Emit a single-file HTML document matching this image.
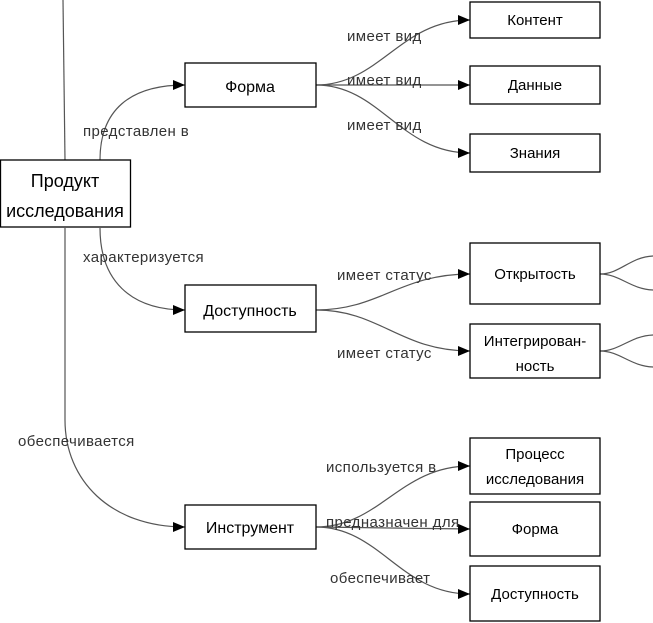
<!DOCTYPE html>
<html><head><meta charset="utf-8"><style>
html,body{margin:0;padding:0;background:#fff;}
svg{display:block;font-family:"Liberation Sans",sans-serif;}
</style></head><body>
<svg width="653" height="623" viewBox="0 0 653 623" xmlns="http://www.w3.org/2000/svg">
<defs><marker id="a" markerWidth="12" markerHeight="10" refX="12" refY="5" orient="auto" markerUnits="userSpaceOnUse"><path d="M0,0 L12,5 L0,10 Z" fill="#000"/></marker></defs>
<g fill="none" stroke="#555" stroke-width="1.2">
<path d="M63,0 L65,160"/>
<path d="M100,160 C100,110 130,85 185,85" marker-end="url(#a)"/>
<path d="M100,228 C100,280 130,310 185,310" marker-end="url(#a)"/>
<path d="M65,228 L65,420 C65,480 110,527 185,527" marker-end="url(#a)"/>
<path d="M316,85 C380,85 400,20 470,20" marker-end="url(#a)"/>
<path d="M316,85 L470,85" marker-end="url(#a)"/>
<path d="M316,85 C380,85 400,153 470,153" marker-end="url(#a)"/>
<path d="M316,310 C380,310 400,274 470,274" marker-end="url(#a)"/>
<path d="M316,310 C380,310 400,351 470,351" marker-end="url(#a)"/>
<path d="M316,527 C380,527 400,466 470,466" marker-end="url(#a)"/>
<path d="M316,527 L470,529" marker-end="url(#a)"/>
<path d="M316,527 C380,527 400,594 470,594" marker-end="url(#a)"/>
<path d="M600,274 C620,274 630,257 653,256"/>
<path d="M600,274 C620,274 630,289 653,290"/>
<path d="M600,351 C620,351 630,336 653,335"/>
<path d="M600,351 C620,351 630,366 653,367"/>
</g>
<g fill="#fff" stroke="#000" stroke-width="1.3">
<rect x="0.5" y="160" width="130" height="67"/>
<rect x="185" y="63" width="131" height="44"/>
<rect x="185" y="285" width="131" height="47"/>
<rect x="185" y="505" width="131" height="44"/>
<rect x="470" y="2" width="130" height="36"/>
<rect x="470" y="66" width="130" height="38"/>
<rect x="470" y="134" width="130" height="38"/>
<rect x="470" y="243" width="130" height="61"/>
<rect x="470" y="324" width="130" height="54"/>
<rect x="470" y="438" width="130" height="56"/>
<rect x="470" y="502" width="130" height="54"/>
<rect x="470" y="566" width="130" height="55"/>
</g>
<g fill="#000" text-anchor="middle" font-size="16">
<text x="65" y="187" font-size="18">Продукт</text>
<text x="65" y="217" font-size="18">исследования</text>
<text x="250" y="92">Форма</text>
<text x="250" y="316">Доступность</text>
<text x="250" y="533">Инструмент</text>
<text x="535" y="25" font-size="15">Контент</text>
<text x="535" y="90" font-size="15">Данные</text>
<text x="535" y="158" font-size="15">Знания</text>
<text x="535" y="279" font-size="15">Открытость</text>
<text x="535" y="346" font-size="15">Интегрирован-</text>
<text x="535" y="371" font-size="15">ность</text>
<text x="535" y="459" font-size="15">Процесс</text>
<text x="535" y="484" font-size="15">исследования</text>
<text x="535" y="534" font-size="15">Форма</text>
<text x="535" y="599" font-size="15">Доступность</text>
</g>
<g fill="#333" font-size="15" letter-spacing="0.4">
<text x="83" y="136">представлен в</text>
<text x="83" y="262">характеризуется</text>
<text x="18" y="446">обеспечивается</text>
<text x="347" y="41">имеет вид</text>
<text x="347" y="85">имеет вид</text>
<text x="347" y="130">имеет вид</text>
<text x="337" y="280">имеет статус</text>
<text x="337" y="358">имеет статус</text>
<text x="326" y="472">используется в</text>
<text x="326" y="527">предназначен для</text>
<text x="330" y="583">обеспечивает</text>
</g>
</svg>
</body></html>
